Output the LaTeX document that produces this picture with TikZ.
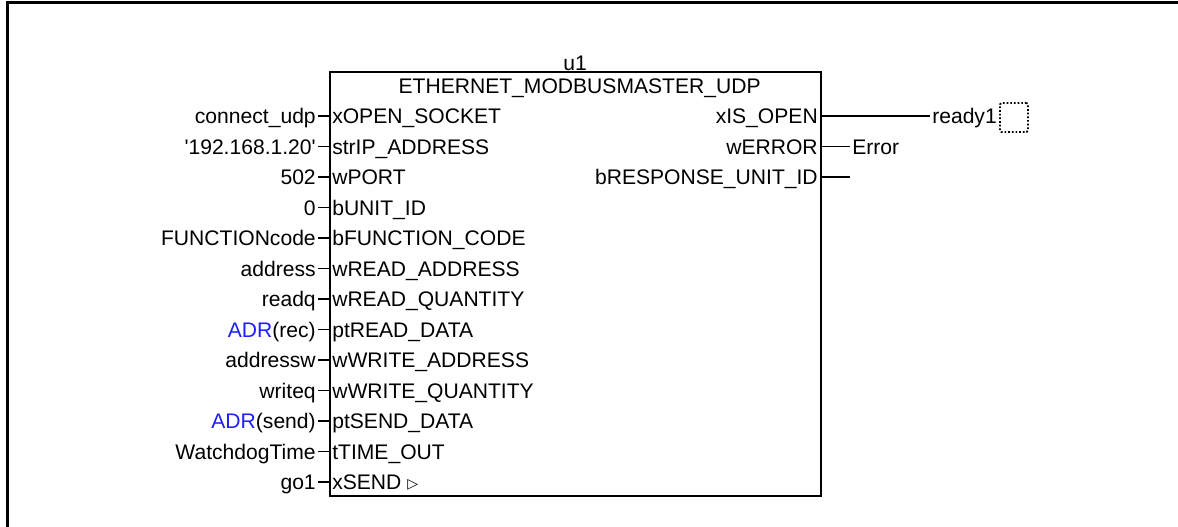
\documentclass[tikz,border=0pt]{standalone}
\usepackage{fontspec}
\setmainfont{Liberation Sans}
\newfontfamily\symfont{DejaVu Sans}
\definecolor{adrblue}{RGB}{30,30,255}

\begin{document}
\begin{tikzpicture}[font=\fontsize{15}{18}\selectfont,
  txt/.style={inner ysep=0pt,text height=0.377cm,text depth=0cm},
  pin/.style={txt,inner xsep=0.075cm,anchor=west},
  opin/.style={txt,inner xsep=0.05cm,anchor=east},
  ext/.style={txt,inner xsep=0.05cm,anchor=east},
  target/.style={txt,inner xsep=0.05cm,anchor=west},
  wire/.style={line width=0.8pt}]
\useasboundingbox (0,0) rectangle (29.45,13.15);
\draw[line width=2.2pt] (0.1875,-0.2) -- (0.1875,13.0875) -- (29.7,13.0875);
% function block
\draw (14.375,11.575) node[txt](inst) {u1};
\draw (8.225,0.725) node[draw,line width=1.1pt,minimum width=12.275cm,minimum height=10.6cm,anchor=south west,inner sep=0pt](fb) {};
\draw (14.49,11.0) node[txt](fbtype) {ETHERNET\_MODBUSMASTER\_UDP};
% inputs
\draw (8.225,10.25) node[pin](xopen) {xOPEN\_SOCKET};
\draw (8.225,9.4875) node[pin](strip) {strIP\_ADDRESS};
\draw (8.225,8.725) node[pin](wport) {wPORT};
\draw (8.225,7.9625) node[pin](bunit) {bUNIT\_ID};
\draw (8.225,7.2) node[pin](bfunc) {bFUNCTION\_CODE};
\draw (8.225,6.4375) node[pin](wradr) {wREAD\_ADDRESS};
\draw (8.225,5.675) node[pin](wrqty) {wREAD\_QUANTITY};
\draw (8.225,4.9125) node[pin](ptread) {ptREAD\_DATA};
\draw (8.225,4.15) node[pin](wwadr) {wWRITE\_ADDRESS};
\draw (8.225,3.3875) node[pin](wwqty) {wWRITE\_QUANTITY};
\draw (8.225,2.625) node[pin](ptsend) {ptSEND\_DATA};
\draw (8.225,1.8625) node[pin](ttime) {tTIME\_OUT};
\draw (8.225,1.1) node[pin](xsend) {xSEND {\symfont\fontsize{10}{11}\selectfont\raisebox{1pt}{▷}}};
% input values
\draw (7.95,10.25) node[ext](connudp) {connect\_udp};
\draw (7.95,9.4875) node[ext](ipaddr) {\textquotesingle192.168.1.20\textquotesingle};
\draw (7.95,8.725) node[ext](portno) {502};
\draw (7.95,7.9625) node[ext](unitno) {0};
\draw (7.95,7.2) node[ext](fcode) {FUNCTIONcode};
\draw (7.95,6.4375) node[ext](address) {address};
\draw (7.95,5.675) node[ext](readq) {readq};
\draw (7.95,4.9125) node[ext](adrrec) {\textcolor{adrblue}{ADR}(rec)};
\draw (7.95,4.15) node[ext](addressw) {addressw};
\draw (7.95,3.3875) node[ext](writeq) {writeq};
\draw (7.95,2.625) node[ext](adrsend) {\textcolor{adrblue}{ADR}(send)};
\draw (7.95,1.8625) node[ext](wdtime) {WatchdogTime};
\draw (7.95,1.1) node[ext](goone) {go1};
\draw[wire] (connudp.east) -- (xopen.west);
\draw[wire] (ipaddr.east) -- (strip.west);
\draw[wire] (portno.east) -- (wport.west);
\draw[wire] (unitno.east) -- (bunit.west);
\draw[wire] (fcode.east) -- (bfunc.west);
\draw[wire] (address.east) -- (wradr.west);
\draw[wire] (readq.east) -- (wrqty.west);
\draw[wire] (adrrec.east) -- (ptread.west);
\draw[wire] (addressw.east) -- (wwadr.west);
\draw[wire] (writeq.east) -- (wwqty.west);
\draw[wire] (adrsend.east) -- (ptsend.west);
\draw[wire] (wdtime.east) -- (ttime.west);
\draw[wire] (goone.east) -- (xsend.west);
% outputs
\draw (20.5,10.25) node[opin](xisopen) {xIS\_OPEN};
\draw (20.5,9.4875) node[opin](werror) {wERROR};
\draw (20.5,8.725) node[opin](bresp) {bRESPONSE\_UNIT\_ID};
\draw (23.25,10.25) node[target](ready) {ready1};
\draw (21.25,9.4875) node[target](err) {Error};
\coordinate (respend) at (21.25,8.725);
\draw (25.35,10.2125) node[draw,line width=1.2pt,dash pattern=on 1.2pt off 1.4pt,rounded corners=1pt,minimum width=0.7cm,minimum height=0.725cm](rdybox) {};
\draw[wire] (xisopen.east) -- (ready.west);
\draw[wire] (werror.east) -- (err.west);
\draw[wire] (bresp.east) -- (respend);
\end{tikzpicture}
\end{document}
